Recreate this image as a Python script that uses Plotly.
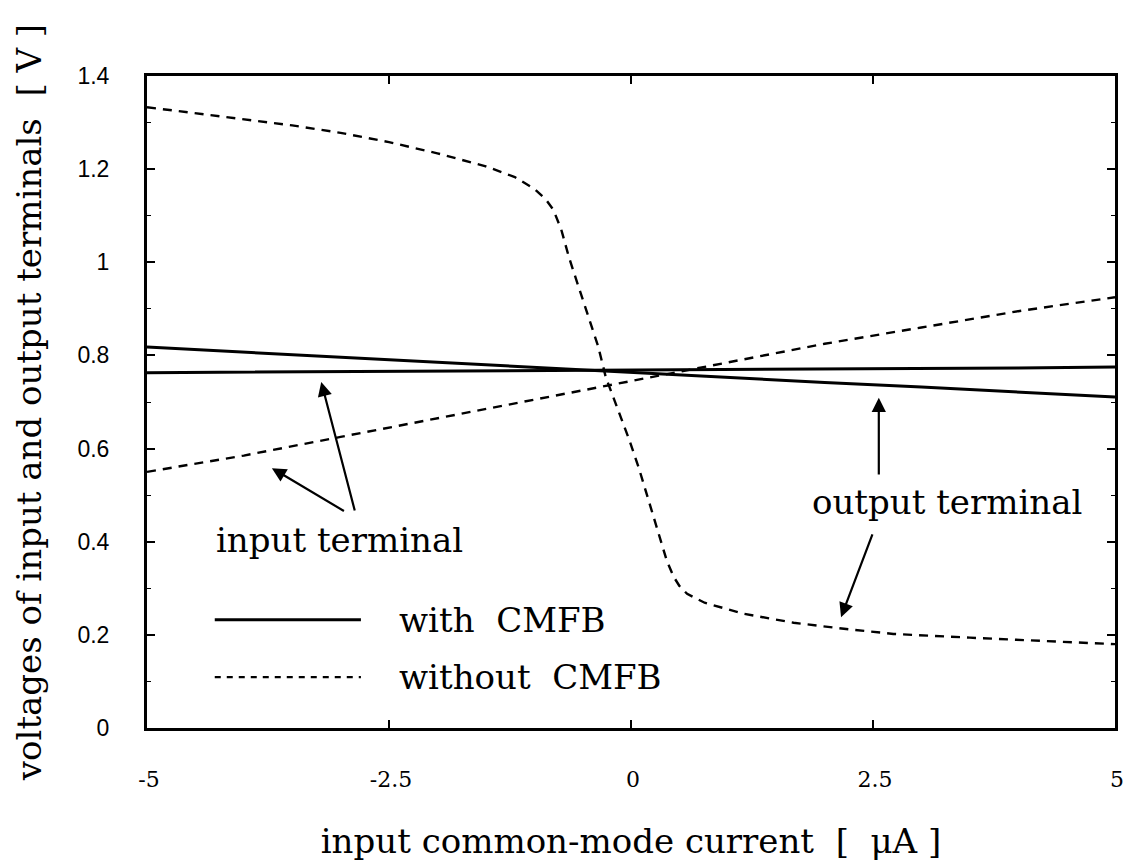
import plotly.graph_objects as go

# input common-mode current [uA]
x_with = [-5, -4, -3, -2, -1, 0, 1, 2, 3, 4, 5]
# input terminal voltage with CMFB (nearly flat)
vin_with = [0.763, 0.764, 0.765, 0.766, 0.767, 0.768, 0.769, 0.770, 0.772, 0.773, 0.775]
# output terminal voltage with CMFB
vout_with = [0.818, 0.807, 0.797, 0.786, 0.775, 0.764, 0.753, 0.742, 0.732, 0.722, 0.711]

# input terminal voltage without CMFB
x_in_wo = [-5, -4, -3, -2, -1, 0, 1, 2, 3, 4, 5]
vin_wo = [0.550, 0.585, 0.625, 0.665, 0.705, 0.745, 0.785, 0.825, 0.860, 0.895, 0.925]

# output terminal voltage without CMFB
x_out_wo = [-5, -4.5, -4, -3.5, -3, -2.5, -2, -1.5, -1.2, -1.0, -0.88, -0.8, -0.72,
            -0.64, -0.53, -0.43, -0.34, -0.26, -0.14, -0.02, 0.08, 0.25, 0.37, 0.44,
            0.5, 0.58, 0.76, 1.17, 1.68, 2.2, 2.71, 3.5, 4.2, 5]
vout_wo = [1.333, 1.320, 1.307, 1.294, 1.278, 1.258, 1.234, 1.206, 1.183, 1.158,
           1.135, 1.112, 1.070, 1.010, 0.940, 0.875, 0.820, 0.753, 0.688, 0.620,
           0.559, 0.439, 0.359, 0.325, 0.305, 0.288, 0.269, 0.245, 0.226, 0.213,
           0.202, 0.194, 0.187, 0.180]

x_ticks = [-5, -2.5, 0, 2.5, 5]
x_tick_text = ["-5", "-2.5", "0", "2.5", "5"]
y_ticks = [0, 0.2, 0.4, 0.6, 0.8, 1.0, 1.2, 1.4]
y_tick_text = ["0", "0.2", "0.4", "0.6", "0.8", "1", "1.2", "1.4"]

SERIF = "DejaVu Serif"
SANS = "Liberation Sans"
TEXT_SIZE = 34

fig = go.Figure()
solid = dict(color="black", width=3)
dashed = dict(color="black", width=2.4, dash="9px,7px")

fig.add_trace(go.Scatter(x=x_with, y=vin_with, mode="lines", line=solid, showlegend=False))
fig.add_trace(go.Scatter(x=x_with, y=vout_with, mode="lines", line=solid, showlegend=False))
fig.add_trace(go.Scatter(x=x_in_wo, y=vin_wo, mode="lines", line=dashed, showlegend=False))
fig.add_trace(go.Scatter(x=x_out_wo, y=vout_wo, mode="lines", line=dashed, showlegend=False))

# hand-drawn legend inside the plot area
fig.add_shape(type="line", xref="paper", yref="paper", x0=0.070, x1=0.221, y0=0.166, y1=0.166,
              line=dict(color="black", width=3))
fig.add_shape(type="line", xref="paper", yref="paper", x0=0.070, x1=0.221, y0=0.078, y1=0.078,
              line=dict(color="black", width=2.2, dash="6px,6px"))
text_font = dict(family=SERIF, size=TEXT_SIZE, color="black")
fig.add_annotation(xref="paper", yref="paper", x=0.258, y=0.166, text="with  CMFB",
                   showarrow=False, xanchor="left", yanchor="middle", font=text_font)
fig.add_annotation(xref="paper", yref="paper", x=0.258, y=0.078, text="without  CMFB",
                   showarrow=False, xanchor="left", yanchor="middle", font=text_font)

# labels with arrows
fig.add_annotation(x=-3.01, y=0.404, text="input terminal", showarrow=False, font=text_font)
fig.add_annotation(x=3.26, y=0.485, text="output terminal", showarrow=False, font=text_font)

arrows = [
    (-2.85, 0.464, -3.20, 0.743),
    (-2.95, 0.464, -3.71, 0.558),
    (2.56, 0.541, 2.56, 0.709),
    (2.50, 0.419, 2.17, 0.238),
]
for tx, ty, hx, hy in arrows:
    fig.add_annotation(x=hx, y=hy, ax=tx, ay=ty, axref="x", ayref="y", xref="x", yref="y",
                       text="", showarrow=True, arrowhead=2, arrowsize=1.3, arrowwidth=2.2,
                       arrowcolor="black")

fig.update_xaxes(
    range=[-5, 5], tickvals=x_ticks, ticktext=x_tick_text,
    showline=True, linecolor="black", linewidth=3, mirror="ticks",
    ticks="inside", ticklen=8, tickwidth=1.5, tickcolor="black",
    showgrid=False, zeroline=False, ticklabelstandoff=30, ticklabelshift=2,
    ticklabeloverflow="allow",
    tickfont=dict(family=SERIF, size=22, color="black"),
    title=dict(text="input common-mode current  [  \u03bcA ]", standoff=38,
               font=dict(family=SERIF, size=TEXT_SIZE, color="black")),
)
fig.update_yaxes(
    range=[0, 1.4], tickvals=y_ticks, ticktext=y_tick_text,
    showline=True, linecolor="black", linewidth=3, mirror="ticks",
    ticks="inside", ticklen=8, tickwidth=1.5, tickcolor="black",
    minor=dict(dtick=0.1, ticks="inside", ticklen=4, tickcolor="black", tickwidth=1.2),
    showgrid=False, zeroline=False, ticklabelstandoff=30,
    tickfont=dict(family=SANS, size=23, color="black"),
    title=dict(text="voltages of input and output terminals  [ V ]", standoff=26,
               font=dict(family=SERIF, size=TEXT_SIZE, color="black")),
)

fig.update_layout(
    width=1131, height=864, autosize=False,
    margin=dict(l=147, r=7, t=76, b=136),
    paper_bgcolor="white", plot_bgcolor="white",
)

fig.write_html("out.html")
